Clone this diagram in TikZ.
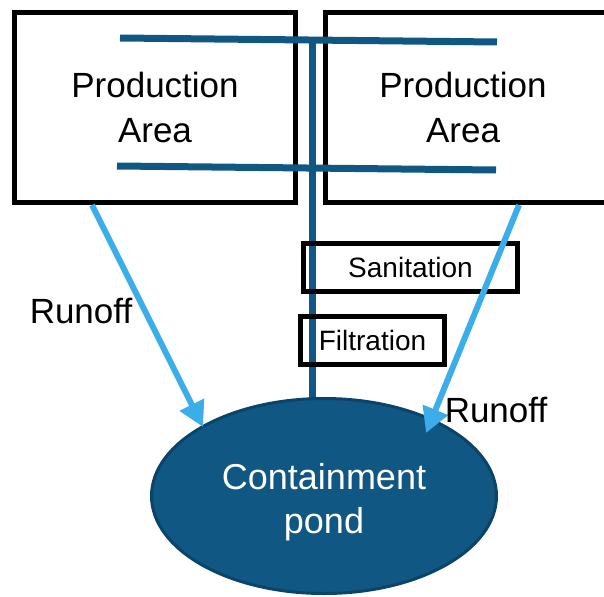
\documentclass[tikz,border=0pt]{standalone}
\usepackage{fontspec}
\setmainfont{Liberation Sans}
\usetikzlibrary{shapes.geometric}
\usetikzlibrary{arrows.meta}
\definecolor{pipeblue}{RGB}{16,87,131}
\definecolor{pondedge}{RGB}{10,68,105}
\definecolor{runblue}{RGB}{59,173,233}
\begin{document}
\begin{tikzpicture}[x=1pt,y=-1pt,
        area/.style={draw,line width=5pt,minimum height=190pt,inner sep=0pt,align=center,font=\fontsize{35}{45}\selectfont},
        treat/.style={draw,line width=5pt,minimum height=48pt,inner sep=0pt,font=\fontsize{28}{32}\selectfont},
        pipe/.style={pipeblue,line width=7pt},
        runoff/.style={runblue,line width=6pt,-{Triangle[width=26pt,length=25pt]}},
        lab/.style={anchor=base,font=\fontsize{35}{42}\selectfont}]
                        \useasboundingbox (0,0) rectangle (604,596);
                        \node[area,minimum width=281pt] (larea) at (155,107.5) {Production\\Area};
                        \node[area,minimum width=300pt] (rarea) at (475.5,107.5) {};
                        \node[align=center,inner sep=0pt,font=\fontsize{35}{45}\selectfont] (rtext) at (463,107.5) {Production\\Area};
                        \coordinate (ptl) at (120,38);
                        \coordinate (ptr) at (497,42);
                        \coordinate (pbl) at (117,166);
                        \coordinate (pbr) at (496,170);
                        \coordinate (ptop) at (312,38);
                        \coordinate (pbot) at (312,410);
                        \draw[pipe] (ptl) -- (ptr);
                        \draw[pipe] (pbl) -- (pbr);
                        \draw[pipe] (ptop) -- (pbot);
                        \node[treat,minimum width=214pt] (sanit) at (410.5,267.5) {Sanitation};
                        \node[treat,minimum width=144pt] (filt) at (372.5,340.5) {Filtration};
                        \node[ellipse,draw=pondedge,fill=pipeblue,line width=3pt,minimum width=345pt,minimum height=195pt] (pond) at (324,496) {};
                        \node[align=center,inner sep=0pt,text=white,font=\fontsize{36}{44}\selectfont] (pondtext) at (324,502) {Containment\\pond};
                        \coordinate (lrun) at (92,205);
                        \coordinate (ltip) at (203,427);
                        \coordinate (rrun) at (519,205);
                        \coordinate (rtip) at (426,433);
                        \draw[runoff] (lrun) -- (ltip);
                        \draw[runoff] (rrun) -- (rtip);
                        \node[lab] (lrunoff) at (81,323) {Runoff};
                        \node[lab] (rrunoff) at (496,422) {Runoff};
                    \end{tikzpicture}
\end{document}
